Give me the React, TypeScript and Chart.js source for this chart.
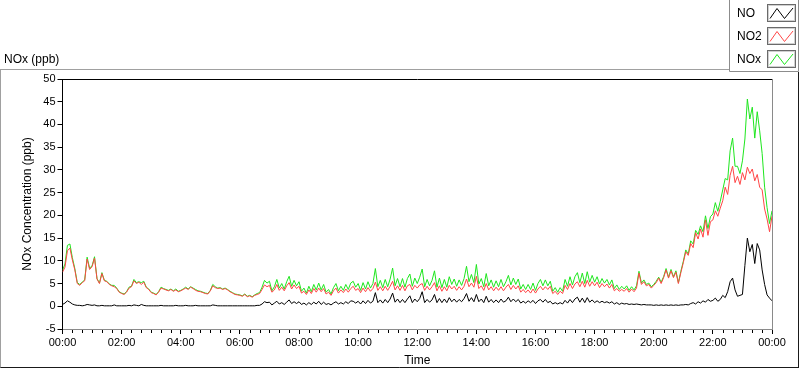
import React, { useEffect, useRef } from "react";
import { Chart, registerables } from "chart.js";

Chart.register(...registerables);

// sampling step of the series, in minutes (00:00 .. 24:00)
const MINUTE_STEP = 5;

// NO (ppb), one value every 5 minutes
const NO_VALUES = [
  0.4, 0.7, 1.2, 0.9, 0.5, 0.3, 0.2, 0.2, 0.1, 0.2, 0.4, 0.3,
  0.2, 0.3, 0.1, 0.1, 0.2, 0.1, 0.1, 0.1, 0.1, 0.3, 0.1, 0.1,
  0.1, 0.1, 0.1, 0.2, 0.1, 0.3, 0.2, 0.1, 0.4, 0.2, 0.1, 0.1,
  0.1, 0.1, 0.1, 0.1, 0.2, 0.1, 0.1, 0.1, 0.1, 0.1, 0.2, 0.1,
  0.1, 0.1, 0.2, 0.1, 0.1, 0.1, 0.2, 0.1, 0.1, 0.1, 0.1, 0.1,
  0.1, 0.3, 0.2, 0.1, 0.1, 0.1, 0.1, 0.1, 0.1, 0.1, 0.1, 0.1,
  0.1, 0.1, 0.1, 0.1, 0.1, 0.1, 0.1, 0.2, 0.2, 0.5, 1.0, 0.8,
  0.9, 0.3, 0.7, 1.1, 0.5, 0.8, 0.4, 0.9, 1.4, 0.6, 1.0, 0.6,
  1.0, 0.4, 0.7, 0.3, 0.8, 0.4, 0.9, 0.5, 1.1, 0.4, 0.9, 0.4,
  0.6, 0.3, 0.7, 1.0, 0.5, 0.8, 0.5, 1.0, 0.6, 1.2, 1.1, 0.7,
  1.1, 0.5, 1.2, 0.6, 1.3, 0.7, 1.1, 3.0, 0.8, 1.4, 0.7, 1.5,
  0.8, 1.6, 2.9, 0.9, 1.6, 0.8, 1.5, 0.8, 1.6, 2.3, 0.8, 1.6,
  1.0, 1.7, 3.2, 0.8, 1.5, 0.9, 1.4, 2.6, 0.8, 1.7, 0.8, 1.6,
  0.8, 1.9, 1.0, 1.6, 0.9, 1.5, 1.0, 1.7, 2.8, 1.1, 1.9, 1.0,
  2.6, 1.0, 1.6, 0.8, 2.2, 0.9, 1.5, 0.8, 1.4, 0.8, 1.6, 0.9,
  1.2, 2.0, 1.0, 1.6, 1.0, 1.5, 0.7, 1.1, 0.7, 1.2, 0.8, 1.3,
  0.6, 1.2, 1.5, 0.9, 1.5, 0.8, 1.1, 0.5, 0.8, 0.5, 0.8, 0.5,
  1.3, 0.7, 1.5, 0.8, 1.6, 2.0, 0.9, 1.8, 0.8, 1.9, 0.9, 1.4,
  0.8, 1.2, 0.8, 1.1, 0.8, 1.0, 0.7, 1.0, 0.5, 0.8, 0.4, 0.7,
  0.5, 0.6, 0.4, 0.5, 0.4, 0.5, 0.4, 0.3, 0.4, 0.3, 0.3, 0.3,
  0.2, 0.3, 0.2, 0.3, 0.2, 0.3, 0.2, 0.3, 0.2, 0.3, 0.2, 0.3,
  0.3, 0.4, 0.3, 0.6, 0.8, 0.5, 1.0, 0.7, 1.2, 0.9, 1.5, 1.1,
  1.3, 1.8, 1.1, 1.5, 2.4, 1.9, 3.2, 5.4, 6.2, 3.6, 2.2, 2.4,
  2.6, 9.0, 15.0, 12.0, 13.6, 9.4, 13.8, 12.4, 8.0, 4.8, 2.5, 1.8,
  1.2,
];

// NO2 (ppb), one value every 5 minutes
const NO2_VALUES = [
  7.5, 8.6, 12.2, 12.8, 10.2, 8.0, 5.0, 4.6, 5.2, 5.6, 10.4, 8.1,
  8.7, 10.6, 6.0, 5.0, 7.2, 5.6, 5.4, 4.8, 4.5, 4.3, 3.9, 3.1,
  2.8, 2.6, 3.1, 4.0, 4.3, 5.6, 5.0, 5.3, 4.8, 5.3, 4.1, 3.7,
  3.0, 2.8, 2.5, 3.1, 4.0, 3.8, 3.6, 3.4, 3.7, 3.3, 3.6, 3.2,
  3.4, 3.7, 4.0, 3.7, 4.2, 3.9, 3.5, 3.3, 3.2, 3.0, 2.8, 2.7,
  3.4, 4.5, 4.1, 3.9, 4.0, 3.7, 3.9, 3.6, 3.2, 2.9, 2.6, 2.5,
  2.4, 2.2, 2.6, 2.1, 2.3, 2.0, 2.4, 2.6, 2.8, 3.7, 4.7, 4.3,
  4.6, 3.1, 3.6, 4.8, 3.5, 4.2, 3.4, 4.5, 5.2, 3.8, 4.7, 3.9,
  4.4, 2.9, 3.3, 2.6, 3.6, 2.8, 3.9, 3.1, 4.0, 3.2, 3.9, 2.7,
  3.1, 2.4, 3.4, 4.0, 2.9, 3.6, 3.0, 3.8, 3.1, 3.9, 4.4, 3.5,
  3.9, 3.0, 4.0, 3.2, 4.1, 3.3, 3.9, 5.3, 3.5, 4.3, 3.4, 4.4,
  3.5, 4.4, 5.5, 3.6, 4.5, 3.5, 4.6, 3.4, 4.5, 4.8, 3.6, 4.6,
  4.0, 4.7, 5.0, 3.5, 4.4, 3.6, 4.3, 5.2, 3.4, 4.5, 3.3, 4.3,
  3.4, 4.6, 3.8, 4.4, 3.5, 4.3, 3.6, 4.4, 6.0, 4.3, 5.1, 4.2,
  6.6, 3.9, 4.5, 3.5, 5.0, 3.6, 4.3, 3.4, 4.2, 3.5, 4.3, 3.4,
  4.2, 4.8, 3.7, 4.6, 3.8, 4.5, 3.1, 3.7, 3.0, 3.6, 2.9, 3.8,
  2.9, 3.8, 4.4, 3.6, 4.3, 3.7, 4.4, 2.8, 3.3, 2.6, 3.3, 2.8,
  4.6, 3.7, 5.0, 3.9, 4.9, 5.4, 4.3, 5.5, 4.2, 5.7, 4.4, 5.4,
  4.5, 5.3, 4.1, 5.0, 4.3, 4.9, 4.0, 4.8, 3.4, 3.9, 3.3, 3.7,
  3.3, 3.9, 3.1, 3.8, 3.2, 4.0, 7.3, 4.8, 5.4, 4.5, 4.8, 4.0,
  4.6, 5.2, 6.2, 5.0, 6.3, 8.0, 6.2, 7.8, 6.3, 7.5, 5.0, 7.4,
  9.6, 12.0, 11.2, 13.8, 12.9, 16.2, 14.8, 17.0, 15.2, 19.0, 15.6, 18.6,
  19.0, 21.0, 19.8, 21.6, 23.2, 26.2, 24.6, 28.8, 30.8, 27.2, 28.6, 26.8,
  29.4, 27.8, 30.6, 29.2, 30.2, 27.6, 29.0, 26.2, 25.6, 21.4, 19.2, 16.4,
  19.8,
];

// NOx = NO + NO2
const NOX_VALUES = NO2_VALUES.map((v, i) => Math.round((v + NO_VALUES[i]) * 10) / 10);

const SERIES_NAMES = ["NO", "NO2", "NOx"];
const SERIES_COLORS = ["#000000", "#ff4646", "#1ee61e"];

const Y_MIN = -5;
const Y_MAX = 50;
const Y_STEP = 5;
const X_MIN = 0;
const X_MAX = 1440;
const X_MAJOR_STEP = 120;
const X_MINOR_STEP = 20;

const FONT = "'Liberation Sans', Arial, sans-serif";

function fmtTime(m: number): string {
  const mm = ((m % 1440) + 1440) % 1440;
  const h = Math.floor(mm / 60);
  const mi = Math.round(mm % 60);
  return String(h).padStart(2, "0") + ":" + String(mi).padStart(2, "0");
}

function toPoints(values: number[]) {
  return values.map((v, i) => ({ x: i * MINUTE_STEP, y: v }));
}

const framePlugin = {
  id: "labviewFrame",
  afterDraw(chart: any) {
    const { ctx, chartArea } = chart;
    const xs = chart.scales.x;
    ctx.save();
    ctx.lineWidth = 1;
    ctx.strokeStyle = "#000000";
    ctx.beginPath();
    ctx.moveTo(Math.floor(chartArea.left) + 0.5, Math.floor(chartArea.top) + 0.5);
    ctx.lineTo(Math.floor(chartArea.right) + 0.5, Math.floor(chartArea.top) + 0.5);
    ctx.stroke();
    ctx.strokeStyle = "#8a8a8a";
    ctx.beginPath();
    ctx.moveTo(Math.floor(chartArea.right) + 0.5, Math.floor(chartArea.top) + 0.5);
    ctx.lineTo(Math.floor(chartArea.right) + 0.5, Math.floor(chartArea.bottom) + 1);
    ctx.stroke();

    // minor x ticks
    ctx.strokeStyle = "#000000";
    const yb = Math.floor(chartArea.bottom) + 1;
    for (let m = X_MIN; m <= X_MAX; m += X_MINOR_STEP) {
      if (m % X_MAJOR_STEP === 0) continue;
      const px = Math.round(xs.getPixelForValue(m)) + 0.5;
      ctx.beginPath();
      ctx.moveTo(px, yb);
      ctx.lineTo(px, yb + 3);
      ctx.stroke();
    }

    // outer panel frame
    ctx.strokeStyle = "#a0a0a0";
    ctx.beginPath();
    ctx.moveTo(0, 69.5);
    ctx.lineTo(730, 69.5);
    ctx.moveTo(0.5, 69.5);
    ctx.lineTo(0.5, 368);
    ctx.stroke();
    ctx.strokeStyle = "#1a1a1a";
    ctx.beginPath();
    ctx.moveTo(0.5, 367.5);
    ctx.lineTo(799, 367.5);
    ctx.moveTo(798.5, 72);
    ctx.lineTo(798.5, 368);
    ctx.stroke();

    // graph title
    ctx.fillStyle = "#000000";
    ctx.font = "12px " + FONT;
    ctx.textAlign = "left";
    ctx.textBaseline = "alphabetic";
    ctx.fillText("NOx (ppb)", 4, 63);

    // legend box
    ctx.strokeStyle = "#8c8c8c";
    ctx.beginPath();
    ctx.moveTo(729.5, 0);
    ctx.lineTo(729.5, 71.5);
    ctx.lineTo(798.5, 71.5);
    ctx.lineTo(798.5, 0);
    ctx.stroke();
    for (let i = 0; i < SERIES_NAMES.length; i++) {
      const cy = 13 + i * 23;
      ctx.fillStyle = "#000000";
      ctx.font = "12px " + FONT;
      ctx.textBaseline = "middle";
      ctx.fillText(SERIES_NAMES[i], 737, cy + 0.5);
      const bx = 767.5;
      const by = cy - 8.5;
      const bw = 28;
      const bh = 17;
      ctx.strokeStyle = "#6a6a6a";
      ctx.lineWidth = 1;
      ctx.strokeRect(bx, by, bw, bh);
      ctx.strokeStyle = "#d0d0d0";
      ctx.strokeRect(bx + 1, by + 1, bw - 2, bh - 2);
      ctx.strokeStyle = SERIES_COLORS[i];
      ctx.beginPath();
      ctx.moveTo(bx + 2.5, by + bh - 3);
      ctx.lineTo(bx + 9.5, by + 4);
      ctx.lineTo(bx + 17, by + bh - 3);
      ctx.lineTo(bx + 25.5, by + 3.5);
      ctx.stroke();
    }
    ctx.restore();
  },
};

export default function App() {
  const canvasRef = useRef<HTMLCanvasElement | null>(null);

  useEffect(() => {
    const canvas = canvasRef.current;
    if (!canvas) return;
    const values = [NO_VALUES, NO2_VALUES, NOX_VALUES];
    const chart = new Chart(canvas, {
      type: "line",
      data: {
        datasets: SERIES_NAMES.map((name, i) => ({
          label: name,
          data: toPoints(values[i]),
          borderColor: SERIES_COLORS[i],
          backgroundColor: SERIES_COLORS[i],
          borderWidth: 1,
          pointRadius: 0,
          tension: 0,
          fill: false,
        })),
      },
      options: {
        responsive: false,
        animation: false,
        events: [],
        layout: { padding: { left: 0, right: 28, top: 79, bottom: 0 } },
        plugins: {
          legend: { display: false },
          tooltip: { enabled: false },
          title: { display: false },
        },
        scales: {
          x: {
            type: "linear",
            min: X_MIN,
            max: X_MAX,
            afterFit: (scale: any) => {
              scale.height = 40;
            },
            afterBuildTicks: (scale: any) => {
              const t = [];
              for (let m = X_MIN; m <= X_MAX; m += X_MAJOR_STEP) t.push({ value: m });
              scale.ticks = t;
            },
            ticks: {
              autoSkip: false,
              maxRotation: 0,
              minRotation: 0,
              padding: 2,
              color: "#000000",
              font: { family: FONT, size: 11 },
              callback: (v: any) => fmtTime(Number(v)),
            },
            grid: {
              drawOnChartArea: false,
              drawTicks: true,
              tickLength: 5,
              color: "#000000",
              tickColor: "#000000",
            },
            border: { display: true, color: "#8a8a8a", width: 1 },
            title: {
              display: true,
              text: "Time",
              color: "#000000",
              font: { family: FONT, size: 12 },
              padding: { top: 0, bottom: 1 },
            },
          },
          y: {
            type: "linear",
            min: Y_MIN,
            max: Y_MAX,
            afterFit: (scale: any) => {
              scale.width = 62.5;
            },
            afterBuildTicks: (scale: any) => {
              const t = [];
              for (let v = Y_MIN; v <= Y_MAX; v += Y_STEP) t.push({ value: v });
              scale.ticks = t;
            },
            ticks: {
              autoSkip: false,
              padding: 2,
              color: "#000000",
              font: { family: FONT, size: 11 },
            },
            grid: {
              drawOnChartArea: false,
              drawTicks: true,
              tickLength: 5,
              color: "#000000",
              tickColor: "#000000",
            },
            border: { display: true, color: "#000000", width: 1 },
            title: {
              display: true,
              text: "NOx Concentration (ppb)",
              color: "#000000",
              font: { family: FONT, size: 12 },
              padding: { top: 20, bottom: 0 },
            },
          },
        },
      },
      plugins: [framePlugin],
    } as any);
    return () => chart.destroy();
  }, []);

  return (
    <div style={{ position: "absolute", left: 0, top: 0, width: 800, height: 369, background: "#ffffff" }}>
      <canvas ref={canvasRef} width={800} height={369} style={{ display: "block", width: 800, height: 369 }} />
    </div>
  );
}
